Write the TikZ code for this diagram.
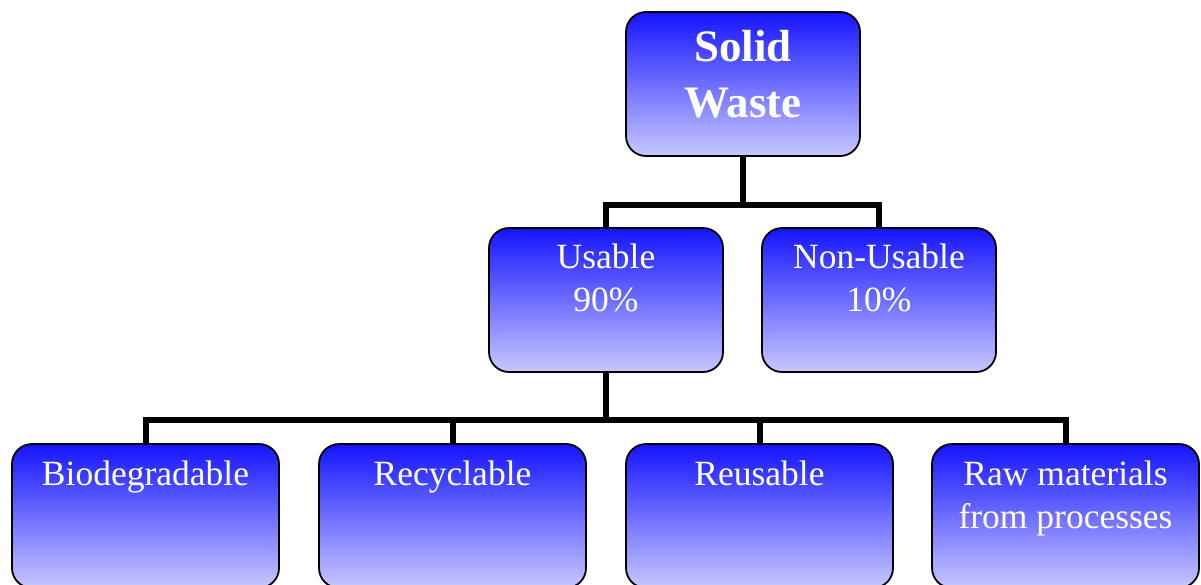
\documentclass[tikz,border=0pt]{standalone}
\usepackage{fontspec}
\setmainfont{Liberation Serif}
\usetikzlibrary{positioning}
\definecolor{boxtop}{RGB}{20,20,255}
\definecolor{boxbottom}{RGB}{200,200,255}

\begin{document}
\begin{tikzpicture}[x=1pt, y=-1pt,
    wastebox/.style={draw, line width=1.8pt, rounded corners=20pt, top color=boxtop, bottom color=boxbottom, minimum height=144pt, inner sep=0pt},
    boxtext/.style={text=white, align=center, inner sep=0pt, font=\fontsize{35.5}{43}\selectfont},
    branch/.style={line width=6pt}]

    \useasboundingbox (0,0) rectangle (1201,584);

    % Solid Waste
    \node[wastebox, minimum width=234pt] (solid) at (743,84) {};
    \node[boxtext, font=\fontsize{45}{56}\selectfont\bfseries, below=19pt of solid.north] (solidtxt) {Solid\\Waste};

    % Usable
    \node[wastebox, minimum width=234pt] (usable) at (606,300) {};
    \node[boxtext, below=17pt of usable.north] (usabletxt) {Usable\\90\%};

    % Non-Usable
    \node[wastebox, minimum width=234pt] (nonusable) at (879,300) {};
    \node[boxtext, below=17pt of nonusable.north] (nonusabletxt) {Non-Usable\\10\%};

    % Biodegradable
    \node[wastebox, minimum width=267pt] (bio) at (145.5,516) {};
    \node[boxtext, below=18pt of bio.north] (biotxt) {Biodegradable};

    % Recyclable
    \node[wastebox, minimum width=267pt] (recycle) at (452.5,516) {};
    \node[boxtext, below=18pt of recycle.north] (recycletxt) {Recyclable};

    % Reusable
    \node[wastebox, minimum width=267pt] (reuse) at (759.5,516) {};
    \node[boxtext, below=18pt of reuse.north] (reusetxt) {Reusable};

    % Raw materials
    \node[wastebox, minimum width=267pt] (raw) at (1065.5,516) {};
    \node[boxtext, below=18pt of raw.north] (rawtxt) {Raw materials\\from processes};

    % first fork
    \coordinate (fork1) at (743,205);
    \draw[branch] (solid.south) -- (fork1);
    \draw[branch] (fork1) -| (usable.north);
    \draw[branch] (fork1) -| (nonusable.north);

    % second fork
    \coordinate (fork2) at (606,420);
    \draw[branch] (usable.south) -- (fork2);
    \draw[branch] (fork2) -| (bio.north);
    \draw[branch] (fork2) -| (recycle.north);
    \draw[branch] (fork2) -| (reuse.north);
    \draw[branch] (fork2) -| (raw.north);

\end{tikzpicture}
\end{document}
